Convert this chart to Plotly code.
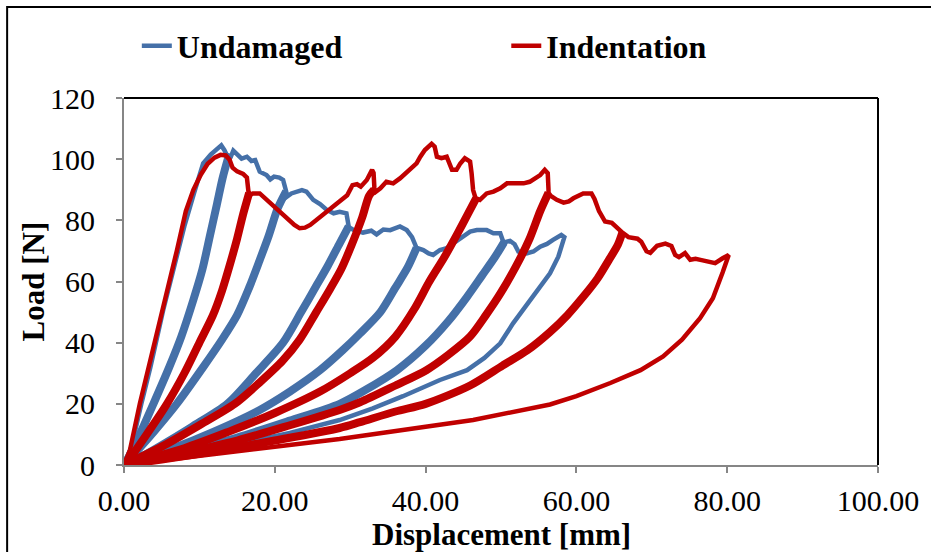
import plotly.graph_objects as go

# ---------------- Undamaged (blue) ----------------
# thin segments: initial loading / envelope pieces between unloading bands / final unloading
und_seg_x = [
    [0, 1.0, 2.3, 3.5, 5.2, 6.5, 8.0, 9.3, 10.5, 11.5, 12.3, 12.9, 13.3, 13.6],
    [14.2, 14.5, 15.0, 15.6, 16.3, 16.9, 17.4, 18.0, 18.9, 19.4, 19.9, 20.6, 21.1, 21.4],
    [21.6, 22.2, 23.0, 23.6, 24.2, 25.1, 26.0, 26.9, 27.8, 28.6, 29.5, 29.8],
    [30.0, 30.5, 31.7, 32.8, 33.5, 34.4, 35.3, 36.6, 37.5, 38.2, 38.7],
    [39.0, 39.7, 40.4, 41.0, 41.9, 42.8, 43.7, 45.0, 45.9, 46.8, 48.1, 49.0, 49.9, 50.3],
    [50.6, 51.2, 51.8, 52.3, 53.4, 54.3, 55.2, 56.1, 56.9, 58.0, 58.4,
     57.6, 56.5, 55.2, 53.4, 51.6, 49.9, 47.8, 45.5, 41.9, 37.0, 33.0, 28.6, 22.0, 15.0, 8.0, 3.0, 0],
]
und_seg_y = [
    [0, 6, 20, 32, 50.7, 64, 78, 89, 98.6, 101.5, 103.5, 104.5, 103.0, 101.5],
    [101.0, 102.8, 101.8, 100.2, 100.8, 99.4, 99.7, 95.9, 94.8, 93.4, 94.3, 94.0, 93.2, 91.0],
    [87.7, 88.8, 89.6, 89.9, 89.4, 86.7, 85.3, 83.4, 82.3, 82.8, 82.3, 79.0],
    [77.5, 76.8, 76.0, 76.6, 75.4, 77.0, 76.8, 78.0, 76.8, 74.5, 71.5],
    [70.9, 70.3, 69.2, 68.7, 70.3, 70.9, 72.5, 74.7, 76.3, 76.8, 76.8, 75.8, 75.8, 73.0],
    [73.0, 73.3, 72.2, 69.8, 69.2, 69.8, 71.4, 72.3, 73.6, 75.2, 74.5,
     68.1, 62.7, 58.3, 51.8, 46.3, 39.8, 35.0, 31.0, 27.8, 22.5, 18.5, 14.7, 10.5, 6.8, 3.5, 1.3, 0],
]
# unloading / reloading bands (from origin up to the envelope)
und_band_x = [
    [0, 0.7, 2.0, 3.9, 6.0, 7.6, 9.2, 10.4, 11.4, 12.3, 13.1, 13.9],
    [0, 1.5, 4.0, 7.0, 10.5, 13.0, 15.0, 16.6, 18.0, 19.2, 20.4, 21.5],
    [0, 2.5, 5.0, 9.0, 13.7, 17.5, 21.1, 23.5, 25.6, 27.0, 28.5, 29.8],
    [0, 3.0, 6.0, 12.0, 18.0, 22.0, 26.0, 29.0, 31.3, 34.0, 36.0, 37.6, 38.8],
    [0, 8.0, 15.0, 22.0, 28.6, 32.0, 36.2, 40.0, 43.0, 45.5, 47.5, 49.2, 50.4],
]
und_band_y = [
    [0, 3, 9.5, 20, 32, 42, 54, 64, 75, 85, 94, 101.2],
    [0, 4, 11, 20, 32, 41, 49, 58, 67, 75, 84, 89.5],
    [0, 3, 6.5, 12.5, 20, 30, 40, 50, 59, 65, 72, 78.0],
    [0, 2.5, 5, 11, 18, 24, 31, 37.5, 43, 50, 58, 64.5, 71.0],
    [0, 4.5, 9, 14.5, 20, 24.5, 31, 39, 47, 55, 62, 68, 72.8],
]

# ---------------- Indentation (red) ----------------
ind_seg_x = [
    [0, 0.8, 2.1, 3.3, 4.5, 5.6, 7.0, 8.2, 9.2, 10.2, 11.1, 12.0, 12.8, 13.5, 14.0, 14.4, 15.0, 15.8, 16.3, 16.5],
    [16.7, 17.1, 18.0, 18.9, 20.3, 21.6, 22.6, 23.3, 24.0, 24.7, 26.9, 28.6, 29.6, 30.3, 30.9, 31.4, 32.2, 32.9, 33.1, 33.2],
    [33.1, 34.0, 34.8, 35.7, 36.6, 37.9, 38.8, 39.3, 39.9, 40.8, 41.2, 41.5, 42.1, 42.8, 43.2, 43.5, 44.1, 44.6, 45.2, 45.9, 46.1, 46.3, 46.6],
    [47.2, 48.1, 49.0, 49.9, 50.8, 51.6, 52.5, 53.0, 53.8, 55.2, 55.8, 56.2, 56.3],
    [56.6, 57.4, 58.3, 59.0, 59.6, 60.9, 62.0, 62.4, 63.0, 63.8, 64.7, 65.3, 65.9],
    [66.3, 66.9, 68.1, 68.6, 69.3, 69.8, 70.7, 71.8, 72.6, 73.1, 73.6, 74.4, 75.1, 75.8, 76.6, 77.7, 78.4, 79.4, 80.2,
     79.4, 78.1, 76.4, 74.0, 71.5, 68.5, 64.5, 60.0, 56.5, 50.0, 46.3, 40.0, 35.0, 28.6, 20.0, 12.7, 5.0, 0],
]
ind_seg_y = [
    [0, 5, 20, 32, 45, 56, 70, 83, 90, 95, 98.5, 100.5, 101.4, 101.2, 99.8, 97.2, 96.0, 95.2, 94.0, 89.5],
    [88.3, 88.8, 88.8, 86.7, 83.4, 80.7, 78.5, 77.4, 77.6, 78.5, 82.8, 86.1, 88.2, 91.5, 91.8, 91.0, 93.2, 96.5, 95.5, 91.0],
    [88.8, 90.5, 92.6, 92.1, 93.7, 96.5, 98.6, 100.8, 103.0, 105.0, 104.1, 100.8, 100.3, 100.8, 98.6, 96.5, 96.5, 98.6, 100.3, 99.2, 95.4, 89.9, 87.5],
    [86.7, 88.8, 89.4, 90.5, 92.1, 92.1, 92.3, 92.1, 92.6, 94.8, 96.5, 95.4, 90.0],
    [88.0, 86.7, 85.8, 86.2, 87.2, 88.8, 88.8, 87.0, 83.0, 79.6, 79.2, 78.0, 76.5],
    [75.5, 74.5, 74.0, 73.0, 69.9, 69.4, 71.7, 72.4, 71.6, 68.7, 68.0, 69.3, 67.1, 67.4, 67.0, 66.6, 66.0, 67.6, 68.7,
     63.0, 54.5, 48.0, 41.0, 35.5, 31.0, 26.8, 22.5, 19.8, 16.5, 14.7, 12.5, 10.8, 8.5, 6.0, 3.9, 1.5, 0],
]
ind_band_x = [
    [0, 1.0, 3.0, 5.7, 8.0, 10.0, 11.8, 13.0, 14.1, 15.0, 15.8, 16.6],
    [0, 5.0, 10.0, 14.7, 18.0, 21.0, 23.3, 25.5, 27.2, 28.8, 30.2, 31.6, 32.5, 33.15],
    [0, 8.0, 14.0, 20.0, 26.0, 30.0, 33.0, 36.0, 38.5, 40.5, 42.5, 44.3, 45.6, 46.7],
    [0, 7.0, 15.0, 22.0, 28.6, 31.3, 36.0, 40.1, 43.0, 45.9, 48.0, 49.9, 52.0, 53.8, 55.2, 56.3],
    [0, 5.0, 12.0, 20.0, 28.6, 31.3, 36.0, 40.0, 45.9, 50.2, 53.5, 56.5, 58.8, 60.9, 62.8, 64.3, 65.5, 66.1],
]
ind_band_y = [
    [0, 3, 10, 20, 30, 40, 49, 57, 66, 74, 82, 89],
    [0, 6, 13, 20, 27, 34, 41, 50, 57, 64, 72, 81, 88, 90],
    [0, 5.5, 11, 17, 24, 30, 35, 42, 51, 60, 68, 76, 82, 87.2],
    [0, 3.5, 8, 13, 18, 20.5, 26, 31, 36, 42, 49, 56, 65, 74, 83, 89.0],
    [0, 1.8, 4.5, 8, 12.1, 14, 17.5, 20, 26, 32.5, 37.5, 43.5, 49, 55, 61, 67, 72, 76.0],
]

x_ticks = [0, 20, 40, 60, 80, 100]
y_ticks = [0, 20, 40, 60, 80, 100, 120]

BLUE = "#4570a8"
RED = "#c00000"
FONT = "Liberation Serif"


def thin_path(segs_x, segs_y, bands_x, bands_y):
    """full cyclic path: segment, down band, up band, next segment ..."""
    px, py = [], []
    for i in range(len(segs_x)):
        px += segs_x[i]
        py += segs_y[i]
        if i < len(bands_x):
            px += bands_x[i][::-1] + bands_x[i]
            py += bands_y[i][::-1] + bands_y[i]
    return px, py


fig = go.Figure()

series = [
    ("Undamaged", BLUE, und_seg_x, und_seg_y, und_band_x, und_band_y, "legend"),
    ("Indentation", RED, ind_seg_x, ind_seg_y, ind_band_x, ind_band_y, "legend2"),
]
for name, color, sx, sy, bx, by, lg in series:
    for k, (xb, yb) in enumerate(zip(bx, by)):
        fig.add_trace(go.Scatter(x=xb, y=yb, mode="lines", showlegend=False,
                                 line=dict(color=color, width=8, shape="spline", smoothing=0.8),
                                 hoverinfo="skip"))
    tpx, tpy = thin_path(sx, sy, bx, by)
    fig.add_trace(go.Scatter(x=tpx, y=tpy, mode="lines", name=name, legend=lg,
                             line=dict(color=color, width=4.5)))

axis_common = dict(
    showline=True, linecolor="#868686", linewidth=2,
    ticks="outside", ticklen=6, tickwidth=2, tickcolor="#868686",
    showgrid=False, zeroline=False, automargin=False,
    tickfont=dict(family=FONT, size=30, color="black"),
)
title_font = dict(family=FONT, size=31, weight="bold", color="black")
legend_font = dict(family=FONT, size=32, weight="bold", color="black")

fig.update_layout(
    width=931, height=552,
    margin=dict(l=124, r=53, t=98, b=87),
    paper_bgcolor="white", plot_bgcolor="white",
    font=dict(family=FONT, color="black"),
    xaxis=dict(range=[0, 100], tickvals=x_ticks, tickformat=".2f",
               ticklabelstandoff=2, **axis_common),
    yaxis=dict(range=[0, 120], tickvals=y_ticks,
               ticklabelstandoff=15, **axis_common),
    legend=dict(orientation="h", x=0.017, y=1.142, xanchor="left", yanchor="middle",
                font=legend_font, bgcolor="rgba(0,0,0,0)"),
    legend2=dict(orientation="h", x=0.507, y=1.142, xanchor="left", yanchor="middle",
                 font=legend_font, bgcolor="rgba(0,0,0,0)"),
    annotations=[
        dict(text="Displacement [mm]", xref="paper", yref="paper", x=0.5, y=-0.19,
             xanchor="center", yanchor="middle", showarrow=False, font=title_font),
        dict(text="Load [N]", xref="paper", yref="paper", x=-0.1194, y=0.5,
             xanchor="center", yanchor="middle", textangle=-90, showarrow=False, font=title_font),
    ],
    shapes=[
        dict(type="line", xref="paper", yref="paper", x0=0, x1=1, y0=1, y1=1,
             line=dict(color="black", width=2)),
        dict(type="line", xref="paper", yref="paper", x0=1, x1=1, y0=0, y1=1,
             line=dict(color="black", width=2)),
        dict(type="rect", xref="paper", yref="paper", x0=-0.155, x1=1.08, y0=-0.26, y1=1.248,
             line=dict(color="black", width=2), layer="below"),
    ],
)

fig.write_html("out.html", config={"displayModeBar": False},
               post_script="document.body.style.margin='0';document.body.style.overflow='hidden';")
